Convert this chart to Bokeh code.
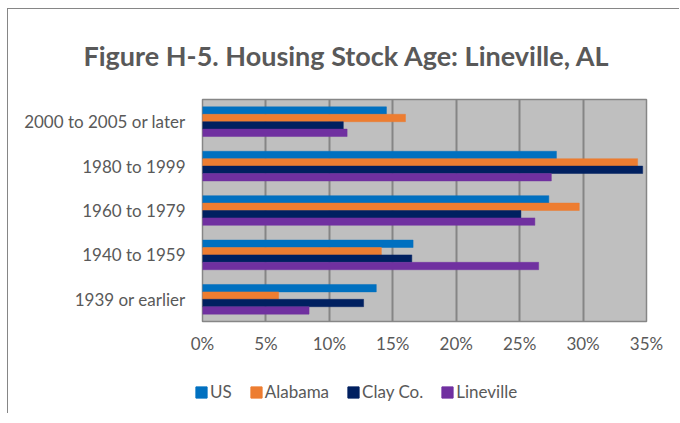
from bokeh.plotting import figure
from bokeh.models import ColumnDataSource, FactorRange, Range1d, FixedTicker, PrintfTickFormatter, Legend, LegendItem, Title
from bokeh.transform import dodge
from bokeh.embed import file_html
from bokeh.resources import INLINE

categories = ["1939 or earlier", "1940 to 1959", "1960 to 1979", "1980 to 1999", "2000 to 2005 or later"]
us = [13.7, 16.6, 27.3, 27.9, 14.5]
alabama = [6.0, 14.1, 29.7, 34.3, 16.0]
clay = [12.7, 16.5, 25.1, 34.7, 11.1]
lineville = [8.4, 26.5, 26.2, 27.5, 11.4]
series_names = ["US", "Alabama", "Clay Co.", "Lineville"]
colors = ["#0070C0", "#ED7D31", "#002060", "#7030A0"]
x_ticks = [0, 5, 10, 15, 20, 25, 30, 35]

src = ColumnDataSource(dict(cat=categories, us=us, al=alabama, clay=clay, line=lineville))

p = figure(width=672, height=361, output_backend="svg", toolbar_location=None,
           y_range=FactorRange(factors=categories, range_padding=0),
           x_range=Range1d(0, 35),
           min_border_left=194, min_border_right=34, min_border_top=86, min_border_bottom=49)
p.styles = {"margin-left": "7px", "margin-top": "8px",
            "border-left": "1px solid #868686", "border-top": "1px solid #868686"}

p.title = Title(text="Figure H-5. Housing Stock Age: Lineville, AL", align="left", offset=-119,
                text_font="Lato", text_font_style="bold", text_font_size="27px",
                text_color="#595959", standoff=55)

bh = 0.167
offsets = [1.5 * bh, 0.5 * bh, -0.5 * bh, -1.5 * bh]
fields = ["us", "al", "clay", "line"]
for f, c, off in zip(fields, colors, offsets):
    p.hbar(y=dodge("cat", off, range=p.y_range), right=f, left=0, height=bh, source=src,
           fill_color=c, line_color=c, line_alpha=0.6, line_width=0.8)

p.background_fill_color = "#BFBFBF"
p.outline_line_color = "#868686"
p.outline_line_width = 1.5
p.ygrid.grid_line_color = None
p.xgrid.grid_line_color = "#858585"
p.xgrid.grid_line_width = 2
p.xaxis.ticker = FixedTicker(ticks=x_ticks)
p.xaxis.formatter = PrintfTickFormatter(format="%d%%")

for ax in (p.xaxis[0], p.yaxis[0]):
    ax.axis_line_color = None
    ax.major_tick_line_color = None
    ax.minor_tick_line_color = None
    ax.major_tick_out = 0
    ax.major_label_text_font = "Lato"
    ax.major_label_text_font_size = "17px"
    ax.major_label_text_color = "#595959"
p.xaxis.major_label_standoff = 11
p.yaxis.major_label_standoff = 17

# legend strip below the chart, as its own root
lg = figure(width=672, height=44, output_backend="svg", toolbar_location=None,
            x_range=Range1d(0, 1), y_range=Range1d(0, 1),
            x_axis_location=None, y_axis_location=None,
            min_border_left=0, min_border_right=0, min_border_top=0, min_border_bottom=0)
lg.styles = {"margin-left": "7px", "border-left": "1px solid #868686"}
lg.outline_line_color = None
lg.grid.grid_line_color = None
items = []
for name, c in zip(series_names, colors):
    # legend proxy glyph, placed far outside the visible range
    r = lg.hbar(y=[-50], left=[0], right=[0], height=0.5, fill_color=c, line_color=c)
    items.append(LegendItem(label=name, renderers=[r]))

legend = Legend(items=items, orientation="horizontal", location=(186, 11), padding=0, spacing=17,
                glyph_width=14, glyph_height=14, label_standoff=2,
                label_text_font="Lato", label_text_font_size="17px", label_text_color="#595959",
                border_line_color=None, background_fill_alpha=0)
lg.add_layout(legend, "center")

open("out.html", "w").write(file_html([p, lg], INLINE))
